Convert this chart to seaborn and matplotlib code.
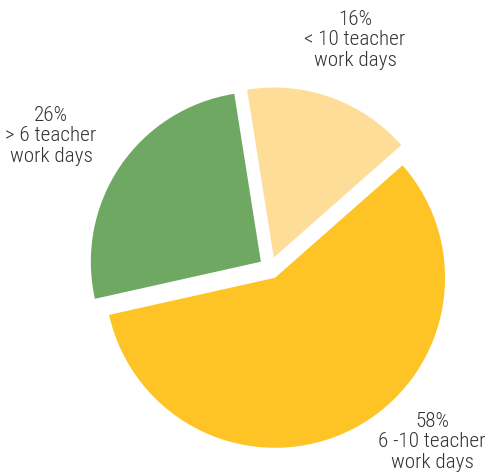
import matplotlib
matplotlib.use("Agg")
import matplotlib.pyplot as plt
import seaborn as sns
from matplotlib import font_manager

sns.set_theme(style="white")

# Data
categories = ["< 10 teacher\nwork days", "6 -10 teacher\nwork days", "> 6 teacher\nwork days"]
values = [16, 58, 26]
colors = ["#FEDD99", "#FEC425", "#6FA862"]

fams = set(f.name for f in font_manager.fontManager.ttflist)
chosen = "DejaVu Sans"
for cand in ["Roboto Condensed", "Liberation Sans Narrow", "Archivo Narrow", "Barlow Semi Condensed"]:
    if cand in fams:
        chosen = cand
        break
plt.rcParams['font.family'] = [chosen, 'DejaVu Sans']

fig = plt.figure(figsize=(4.89, 4.75), dpi=100)
ax = fig.add_axes([0, 0, 1, 1])
ax.pie(values, colors=colors, startangle=99, counterclock=False,
       explode=[0.065, 0.065, 0.065], radius=1.0,
       wedgeprops=dict(linewidth=0))
ax.set_aspect('auto')
ax.set_xlim(-1.588, 1.288)
ax.set_ylim(-1.218, 1.576)
ax.axis('off')

def px(x, y):
    return (x - 270) / 170, (268 - y) / 170

label_pos = [px(355, 40), px(432, 442), px(51, 136)]
for v, c, (lx, ly) in zip(values, categories, label_pos):
    ax.text(lx, ly, f"{v}%\n{c}", ha="center", va="center", fontsize=15.2,
            fontweight="light", color="#333333", linespacing=1.12)

fig.savefig("out.png", dpi=100)
